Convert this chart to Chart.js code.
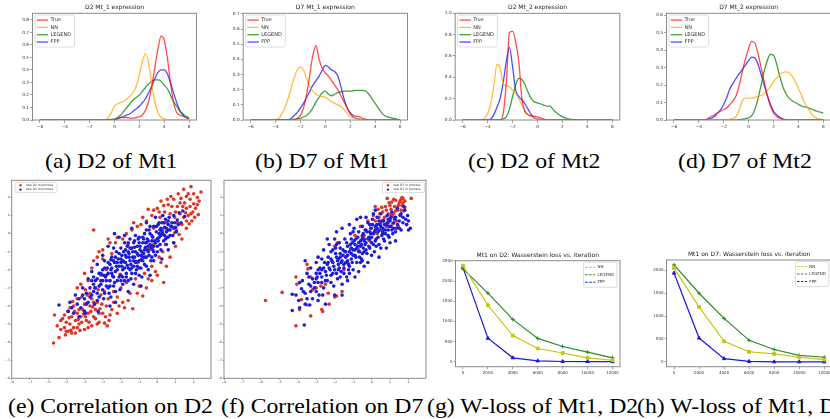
<!DOCTYPE html>
<html>
<head>
<meta charset="utf-8">
<script src="https://cdn.jsdelivr.net/npm/chart.js@4.4.1/dist/chart.umd.min.js"></script>
<style>
  body { margin: 0; background: #fff; }
  #fig { position: relative; width: 830px; height: 419px; overflow: hidden; background: #fff; }
  #fig canvas { position: absolute; }
  .cap { position: absolute; font-family: "Liberation Serif", "Times New Roman", serif; font-size: 21px;
         line-height: 21px; white-space: nowrap; color: #000; transform: scaleX(1.13); transform-origin: 0 0; }
</style>
</head>
<body>
<div id="fig">
  <div class="cap" style="left:45px;top:151px">(a) D2 of Mt1</div>
  <div class="cap" style="left:255px;top:151px">(b) D7 of Mt1</div>
  <div class="cap" style="left:468px;top:151px">(c) D2 of Mt2</div>
  <div class="cap" style="left:678px;top:151px">(d) D7 of Mt2</div>
  <div class="cap" style="left:8px;top:396px">(e) Correlation on D2</div>
  <div class="cap" style="left:221px;top:396px">(f) Correlation on D7</div>
  <div class="cap" style="left:427px;top:396px">(g) W-loss of Mt1, D2</div>
  <div class="cap" style="left:637px;top:396px">(h) W-loss of Mt1, D7</div>
</div>
<script>
// density curves, x from -6 to 6 in 0.25 steps
const xGrid = [-6,-5.75,-5.5,-5.25,-5,-4.75,-4.5,-4.25,-4,-3.75,-3.5,-3.25,-3,-2.75,-2.5,-2.25,-2,-1.75,-1.5,-1.25,-1,-0.75,-0.5,-0.25,
  0,0.25,0.5,0.75,1,1.25,1.5,1.75,2,2.25,2.5,2.75,3,3.25,3.5,3.75,4,4.25,4.5,4.75,5,5.25,5.5,5.75,6];

const d2mt1True = [0,0,0,0,0,0,0,0,0,0,0,0,0,0,0,0,0,0,0,0,0,0,0,0,
  0,0.01,0.02,0.02,0.02,0.015,0.015,0.02,0.025,0.04,0.08,0.15,0.27,0.42,0.57,0.67,0.64,0.5,0.3,0.14,0.06,0.04,0.03,0.02,0.01];
const d2mt1NN = [0,0,0,0,0,0,0,0,0,0,0,0,0,0,0,0,0,0,0,0,0,
  0,0.02,0.06,0.11,0.13,0.14,0.15,0.17,0.19,0.22,0.27,0.36,0.47,0.53,0.45,0.28,0.14,0.06,0.02,0.01,
  0,0,0,0,0,0,0,0];
const d2mt1Legend = [0,0,0,0,0,0,0,0,0,0,0,0,0,0,0,0,0,0,0,0,0,0,0,
  0.005,0.01,0.02,0.04,0.07,0.1,0.13,0.16,0.18,0.2,0.23,0.26,0.29,0.31,0.32,0.32,0.31,0.28,0.25,0.2,0.15,0.11,0.07,0.05,0.03,0.02];
const d2mt1FPP = [0,0,0,0,0,0,0,0,0,0,0,0,0,0,0,0,0,0,0,0,0,0,0,0,
  0,0.01,0.02,0.03,0.04,0.05,0.07,0.09,0.11,0.14,0.17,0.22,0.27,0.33,0.38,0.4,0.4,0.37,0.3,0.22,0.14,0.08,0.04,0.02,0.01];

const d7mt1True = [0,0,0,0,0,0,0,0,0,0,0,0,0,0,
  0,0.01,0.03,0.08,0.17,0.3,0.43,0.49,0.4,0.34,0.31,0.29,0.26,0.23,0.2,0.16,0.12,0.08,0.05,0.03,0.025,0.02,0.01,0.005,
  0,0,0,0,0,0,0,0,0,0,0];
const d7mt1NN = [0,0,0,0,0,0,0,0,
  0.005,0.01,0.04,0.08,0.14,0.21,0.28,0.33,0.35,0.33,0.27,0.22,0.19,0.17,0.16,0.155,0.15,0.135,0.12,0.11,0.1,0.09,0.07,0.045,0.02,0.015,0.01,0.005,
  0,0,0,0,0,0,0,0,0,0,0,0,0];
const d7mt1Legend = [0,0,0,0,0,0,0,0,0,0,0,0,
  0,0.002,0.005,0.008,0.01,0.02,0.03,0.05,0.08,0.12,0.15,0.18,0.19,0.17,0.16,0.17,0.18,0.185,0.19,0.19,0.19,0.193,0.195,0.195,0.195,0.19,0.17,0.14,0.11,0.08,0.05,0.03,0.02,0.015,0.01,0.005,0.002];
const d7mt1FPP = [0,0,0,0,0,0,0,0,0,0,0,0,
  0,0.01,0.03,0.05,0.08,0.11,0.15,0.19,0.23,0.26,0.29,0.33,0.36,0.35,0.33,0.32,0.29,0.22,0.14,0.08,0.04,0.02,0.01,0.005,0,
  0,0,0,0,0,0,0,0,0,0,0,0];

const d2mt2True = [0,0,0,0,0,0,0,0,0,0,0,0,
  0,0.06,0.35,0.82,0.83,0.73,0.55,0.2,0.08,0.05,0.04,0.035,0.03,0.02,0.01,0,
  0,0,0,0,0,0,0,0,0,0,0,0,0,0,0,0,0,0,0,0,0];
const d2mt2NN = [0,0,0,0,0,0,
  0,0.02,0.06,0.15,0.32,0.52,0.49,0.34,0.32,0.31,0.28,0.25,0.2,0.14,0.08,0.05,0.03,0.02,0.01,0,
  0,0,0,0,0,0,0,0,0,0,0,0,0,0,0,0,0,0,0,0,0,0,0];
const d2mt2Legend = [0,0,0,0,0,0,0,0,0,0,0,0,
  0,0.01,0.03,0.1,0.22,0.33,0.39,0.38,0.33,0.26,0.2,0.17,0.16,0.15,0.14,0.13,0.13,0.1,0.07,0.05,0.03,0.02,0.01,0.005,0,
  0,0,0,0,0,0,0,0,0,0,0,0];
const d2mt2FPP = [0,0,0,0,0,0,0,0,
  0,0.01,0.05,0.12,0.2,0.35,0.55,0.68,0.5,0.28,0.22,0.19,0.15,0.1,0.05,0.02,0.01,0.005,0,
  0,0,0,0,0,0,0,0,0,0,0,0,0,0,0,0,0,0,0,0,0,0];

const d7mt2True = [0,0,0,0,0,0,0,0,0,0,
  0,0.01,0.02,0.03,0.04,0.05,0.06,0.07,0.09,0.11,0.14,0.2,0.28,0.35,0.41,0.45,0.44,0.38,0.3,0.22,0.14,0.08,0.04,0.02,0.01,0.005,0,
  0,0,0,0,0,0,0,0,0,0,0,0];
const d7mt2NN = [0,0,0,0,0,0,0,0,0,0,0,0,0,0,0,0,
  0,0.002,0.005,0.01,0.02,0.06,0.11,0.125,0.125,0.125,0.13,0.135,0.14,0.15,0.17,0.19,0.22,0.24,0.26,0.27,0.275,0.27,0.25,0.22,0.18,0.14,0.1,0.07,0.04,0.02,0.01,0.005,0];
const d7mt2Legend = [0,0,0,0,0,0,0,0,0,0,0,0,0,0,0,0,0,0,0,0,
  0,0.002,0.005,0.008,0.012,0.025,0.06,0.12,0.2,0.28,0.34,0.375,0.37,0.32,0.25,0.19,0.15,0.125,0.11,0.1,0.09,0.08,0.075,0.07,0.063,0.057,0.05,0.045,0.04];
const d7mt2FPP = [0,0,0,0,0,0,0,0,0,0,
  0,0.005,0.01,0.02,0.04,0.06,0.09,0.13,0.18,0.21,0.24,0.265,0.29,0.315,0.34,0.36,0.355,0.32,0.26,0.2,0.14,0.09,0.05,0.03,0.015,0.005,0,
  0,0,0,0,0,0,0,0,0,0,0,0];

// correlation scatter points
const realD2 = [[-5.7,-6.05],[-5.4,-5.75],[-5.65,-4.5],[-5.3,-5.3],[-5.1,-5.2],[-5.0,-4.9],[-4.9,-5.4],[-4.8,-5.0],[-4.7,-4.6],
  [-4.6,-5.2],[-4.5,-4.8],[-4.4,-4.4],[-4.3,-5.0],[-4.2,-4.6],[-4.1,-4.2],[-4.0,-5.3],[-4.0,-3.9],[-3.9,-4.8],[-3.8,-4.4],
  [-3.7,-4.0],[-3.6,-5.1],[-3.6,-3.6],[-3.5,-4.6],[-3.4,-4.2],[-3.3,-3.8],[-3.2,-4.9],[-3.1,-3.4],[-3.0,-4.4],[-2.9,-4.95],
  [-2.75,-5.1],[-2.8,-4.0],[-2.7,-3.6],[-4.9,-4.3],[-5.2,-4.7],[-4.6,-4.0],[-4.4,-3.6],[-4.25,-5.35],[-3.85,-3.4],[-4.5,-5.5],
  [-5.5,-5.1],[-3.95,-3.1],[-4.15,-3.5],[-3.45,-3.0],[-3.3,-5.0],[-2.6,-4.5],[-2.5,-4.2],[-3.75,-4.9],[-4.35,-4.75],[-4.05,-4.45],
  [-3.55,-4.05],[-3.15,-4.15],[-4.75,-5.35],[-5.05,-5.6],[-4.65,-3.75],[-3.25,-3.1],[-2.9,-3.2],
  [-3.5,0.2],[-3.0,-1.4],[-2.8,-2.0],[-2.6,-2.6],[-2.4,-3.2],[-2.2,-3.5],[-2.0,-3.0],[-1.9,-3.8],[-1.7,-2.7],[-1.5,-3.3],
  [-1.35,-4.15],[-1.2,-2.5],[-1.0,-2.9],[-0.8,-3.45],[-0.7,-2.2],[-0.5,-2.5],[-0.3,-1.8],[-0.1,-2.1],[0.35,-2.7],[0.1,-1.3],
  [0.3,-1.0],[-3.2,-1.0],[-3.1,-2.3],[-2.5,-1.1],[-2.3,-0.5],[-1.9,-0.3],[-1.6,-0.6],[-1.4,0.2],[-1.1,0.4],[-0.9,0.5],
  [-0.6,0.7],[-3.6,-1.9],[-3.8,-2.6],[-2.05,-2.25],[-1.05,-1.6],[-0.45,-0.9],[-4.2,-2.8],[-2.7,-0.3],[-0.2,0.3],[0.0,-0.3],
  [0.5,-1.8],[-1.8,-4.1],[-2.2,-4.4],
  [1.85,2.6],[2.2,2.0],[1.45,2.45],[1.7,2.2],[2.0,1.65],[1.2,-0.05],[0.2,1.8],[0.6,1.6],[0.9,1.9],[1.1,1.5],[1.3,1.95],
  [1.5,1.7],[1.6,1.4],[1.8,1.9],[1.95,1.2],[2.1,1.4],[2.3,1.8],[0.4,1.2],[0.7,1.1],[0.95,0.9],[1.25,1.1],[1.45,0.9],[1.7,1.0],
  [1.9,0.7],[0.15,0.9],[0.5,0.6],[0.8,0.4],[1.05,0.2],[1.35,0.5],[1.6,0.3],[0.3,0.2],[0.6,-0.2],[-0.3,1.0],[0.0,1.4],
  [-0.5,1.35],[2.4,2.3],[1.15,2.2],[0.75,2.05],[2.05,0.9],[1.75,0.55],[0.9,-0.5],[0.45,-0.6],[-0.2,-0.6],[1.35,-0.3],[2.25,1.05],
  [-5.3,-4.8],[-5.0,-5.4],[-4.85,-4.65],[-4.7,-5.5],[-4.55,-4.3],[-4.4,-5.2],[-4.3,-4.2],[-4.15,-4.9],[-3.95,-4.6],[-3.8,-5.2],
  [-3.65,-4.3],[-3.5,-3.8],[-3.4,-4.7],[-3.2,-4.4],[-3.05,-3.9],[-2.85,-4.6],[-2.65,-4.8],[-3.7,-3.3],[-4.8,-4.1],[-5.1,-4.5],
  [-2.4,-3.8],[-2.1,-4.0],[-1.6,-3.7],[-1.1,-3.3],[-0.6,-3.0],[-0.3,-2.6],[0.0,-2.3],[0.2,-1.6],[0.7,-1.3],[1.0,-0.7],[1.6,0.7],
  [1.8,1.5],[2.2,1.6],[1.4,1.5],[1.0,1.2],[0.8,1.5],[0.55,1.9],[0.35,1.55],[2.0,2.2],[1.6,2.05],[1.25,1.7],[1.55,1.15],[1.85,1.1],
  [0.1,1.2],[-0.2,1.3],[-0.8,0.9],[-1.3,0.6],[-1.7,0.0],[-2.2,-0.2],[-2.6,-0.5],[-3.0,-0.9],[-3.3,-1.3],[-3.5,-1.5],[-4.0,-2.2],
  [-4.4,-3.0],[1.1,0.6],[0.4,0.6],[0.95,0.05]];
const testD2 = [[-5.4,-3.95],[-4.9,-4.3],[-4.6,-4.4],[-4.4,-3.9],[-4.2,-4.1],[-4.0,-3.6],[-3.9,-3.3],[-3.8,-3.8],[-3.7,-3.0],
  [-3.6,-3.4],[-3.5,-2.8],[-3.45,-3.9],[-3.3,-3.3],[-3.3,-2.5],[-3.2,-2.9],[-3.1,-2.2],[-3.0,-3.1],[-3.0,-2.6],[-2.9,-1.9],
  [-2.85,-2.4],[-2.8,-2.9],[-2.7,-1.6],[-2.7,-2.2],[-2.65,-3.3],[-2.6,-2.6],[-2.5,-1.9],[-2.5,-1.3],[-2.45,-2.35],[-2.4,-2.9],
  [-2.35,-1.6],[-2.3,-2.1],[-2.25,-1.0],[-2.2,-2.6],[-2.15,-1.4],[-2.1,-1.8],[-2.05,-3.1],[-2.0,-2.3],[-2.0,-0.8],[-1.95,-1.2],
  [-1.9,-2.0],[-1.85,-1.55],[-1.8,-2.6],[-1.75,-0.9],[-1.7,-1.3],[-1.7,-2.2],[-1.65,-1.75],[-1.6,-0.5],[-1.55,-1.1],[-1.5,-2.0],
  [-1.5,-1.5],[-1.45,-2.5],[-1.4,-0.8],[-1.35,-1.3],[-1.3,-1.8],[-1.25,-0.4],[-1.2,-1.0],[-1.2,-2.2],[-1.15,-1.55],[-1.1,-0.7],
  [-1.05,-1.2],[-1.0,-1.9],[-1.0,-0.2],[-0.95,-0.9],[-0.9,-1.45],[-0.85,-2.4],[-0.8,-0.5],[-0.75,-1.1],[-0.7,-1.7],[-0.7,0.0],
  [-0.65,-0.75],[-0.6,-1.3],[-0.55,-0.3],[-0.5,-2.0],[-0.5,-1.0],[-0.45,0.2],[-0.4,-0.6],[-0.35,-1.5],[-0.3,-0.1],[-0.25,-0.9],
  [-0.2,0.4],[-0.15,-0.4],[-0.1,-1.2],[-0.05,0.1],[0.0,-0.7],[0.05,0.5],[0.1,-0.2],[0.15,0.2],[0.2,-0.9],[0.25,0.6],[0.3,0.0],
  [0.35,-0.4],[0.4,0.35],[0.45,0.8],[0.5,0.1],[0.55,-0.2],[0.6,0.5],[0.65,0.9],[0.7,0.2],[0.8,0.6],[0.85,-0.1],[0.9,1.0],
  [1.0,0.35],[1.1,0.75],[1.2,1.15],[1.3,0.6],[1.5,0.95],[1.4,1.25],[-2.35,0.0],[-2.1,-0.2],[-3.3,-1.7],[-3.6,-2.1],[-3.8,-2.5],
  [-4.1,-3.0],[-4.3,-4.6],[-4.8,-3.8],[-4.5,-3.4],[-3.95,-4.4],[-2.95,-3.6],[-2.55,-3.5],[-1.6,-3.2],[-1.3,-2.8],[-0.9,-2.9],
  [-0.4,-2.3],[0.25,-1.4],[0.6,-0.9],[0.9,-0.5],[-1.8,-0.1],[-1.4,0.3],[-2.7,-0.7],[-3.0,-1.2],[-0.6,0.6],[-0.1,0.9],[0.3,1.0],
  [-2.6,-4.0],[-3.25,-4.3],[-2.3,-3.8],[-2.3,-1.3],[-2.0,-1.6],[-1.8,-1.9],[-1.6,-1.0],[-1.3,-1.5],[-1.1,-1.8],[-0.9,-1.2],
  [-0.7,-0.9],[-0.5,-0.7],[-0.3,-0.4],[-0.2,-1.0],[0.0,-0.3],[0.2,0.3],[-1.9,-2.4],[-2.2,-2.0],[-2.5,-2.2],[-2.8,-2.6],
  [-3.1,-2.8],[-1.5,-0.3],[-1.0,-0.5],[-0.8,-0.2],[-0.4,0.0],[0.1,0.0],[0.4,-0.1],
  [-3.9,-3.9],[-3.7,-3.5],[-3.5,-3.2],[-3.4,-2.6],[-3.2,-3.5],[-3.1,-2.6],[-2.95,-2.3],[-2.9,-3.3],[-2.75,-1.9],[-2.6,-2.9],
  [-2.55,-2.0],[-2.4,-1.5],[-2.4,-2.4],[-2.3,-3.2],[-2.25,-1.8],[-2.1,-2.4],[-2.1,-1.1],[-1.95,-1.8],[-1.9,-2.8],[-1.85,-1.0],
  [-1.75,-1.6],[-1.7,-2.4],[-1.65,-0.7],[-1.6,-1.9],[-1.55,-1.3],[-1.45,-1.7],[-1.4,-2.2],[-1.35,-1.0],[-1.3,-0.5],[-1.25,-1.3],
  [-1.2,-1.6],[-1.15,-2.0],[-1.1,-1.1],[-1.05,-0.3],[-1.0,-1.5],[-0.95,-0.7],[-0.9,-1.9],[-0.85,-1.0],[-0.8,-1.3],[-0.75,-0.3],
  [-0.7,-1.3],[-0.65,-0.5],[-0.6,-1.8],[-0.55,-0.9],[-0.5,-0.4],[-0.45,-1.2],[-0.4,0.4],[-0.35,-0.8],[-0.3,-1.3],[-0.25,-0.2],
  [-0.2,-0.7],[-0.1,-0.5],[-0.05,0.4],[0.05,-0.4],[0.1,0.6],[0.15,-0.6],[0.25,0.1],[0.35,0.6],[0.45,-0.3],[0.5,0.3],[0.6,0.7],
  [0.7,-0.1],[0.75,0.4],[0.95,0.6],[1.05,0.1],[1.15,0.5],[0.5,-0.6],[-2.0,-1.4],[-2.2,-1.6],[-2.6,-1.7],[-2.8,-2.3],[-3.0,-2.0],
  [-3.4,-3.0],[-3.6,-2.6],[-4.1,-3.4],[-4.3,-3.6],[-4.7,-4.1],[-4.0,-4.3],[-3.3,-3.7],[-1.6,-2.6],[-1.0,-2.3],[-0.2,-1.5],
  [0.0,-1.0],[-1.8,-0.5],[-1.2,-0.1],[-0.6,0.2],[-2.4,-0.8],[-2.9,-1.5],[-3.5,-2.4],[-1.5,-0.8],[-1.9,-1.5],[-2.35,-2.7],
  [-2.7,-3.0],[-2.0,-2.6],[-1.4,-1.9],[-0.8,-1.5],[-0.3,-0.7],[0.2,-0.1],[0.6,0.2],[0.9,0.3],[-3.2,-2.2],[-2.55,-1.45],
  [-1.75,-1.2],[-1.25,-0.75],[-0.6,-0.5]];
const realD7 = [[-5.75,-3.7],[-4.85,-3.25],[-4.1,-2.4],[-4.05,-2.8],[-3.5,-1.7],[-3.45,-1.95],[-4.1,-5.1],[-3.3,-4.55],
  [-3.5,-3.95],[-3.9,-4.2],[-2.7,-4.2],[-2.65,-4.3],[-2.3,-3.9],[-1.9,-3.45],[-3.2,-3.1],[-3.0,-3.0],[-2.75,-2.9],[-2.35,-3.3],
  [-3.8,-3.65],[-3.3,-2.4],[-1.85,-0.5],[-0.5,-0.2],[-1.15,-0.85],[-1.5,-2.0],[-2.0,-0.7],[-0.9,-0.1],[-0.6,0.4],[-0.3,0.2],
  [0.0,0.3],[0.2,0.7],[0.3,0.0],[0.4,0.9],[0.5,0.6],[0.6,1.2],[0.7,0.9],[0.75,1.5],[0.8,0.4],[0.9,1.1],[0.95,1.7],[1.0,0.8],
  [1.05,1.35],[1.1,1.75],[1.2,1.1],[1.25,1.5],[1.3,1.85],[1.35,0.7],[1.4,1.3],[1.5,1.7],[1.55,1.05],[1.6,1.9],[1.65,1.55],
  [1.7,1.95],[1.75,1.25],[1.8,1.8],[2.15,1.95],[0.35,1.35],[0.1,1.0],[-0.2,0.7],[0.65,0.2],[1.15,0.55],[1.45,0.4],[1.9,0.5],
  [0.85,1.95],[-0.1,-0.4],[-1.3,-1.6],[-0.7,-0.9],
  [0.45,1.1],[0.55,1.45],[0.65,0.75],[0.8,1.3],[0.9,0.6],[1.0,1.55],[1.15,0.95],[1.2,1.9],[1.3,1.25],[1.45,1.55],[1.55,1.8],
  [1.6,1.3],[1.7,1.7],[1.8,1.45],[1.65,2.0],[1.05,1.05],[0.3,0.5],[-0.1,0.5],[-0.4,-0.1],[0.2,1.5],[-2.0,-3.5],[-1.6,-3.2],
  [-2.5,-2.8]];
const testD7 = [[-4.1,-3.4],[-3.9,-4.1],[-3.65,-5.05],[-4.3,-3.35],[-3.7,-3.2],[-3.5,-3.6],[-3.4,-2.8],[-3.3,-3.2],[-3.2,-2.5],
  [-3.1,-3.0],[-3.0,-2.2],[-2.9,-2.7],[-2.85,-3.4],[-2.8,-1.9],[-2.7,-2.4],[-2.6,-3.0],[-2.55,-1.6],[-2.5,-2.1],[-2.5,-3.9],
  [-2.4,-2.6],[-2.35,-1.3],[-2.3,-1.9],[-2.2,-2.3],[-2.2,-1.0],[-2.1,-1.6],[-2.05,-2.9],[-2.0,-2.0],[-1.95,-0.8],[-1.9,-1.3],
  [-1.85,-2.5],[-1.8,-1.7],[-1.75,-0.5],[-1.7,-1.1],[-1.65,-2.1],[-1.6,-1.5],[-1.55,-0.9],[-1.5,-1.9],[-1.45,-0.3],[-1.4,-1.3],
  [-1.35,-2.4],[-1.3,-0.7],[-1.25,-1.7],[-1.2,-1.0],[-1.15,0.0],[-1.1,-1.4],[-1.05,-0.5],[-1.0,-2.0],[-1.0,-0.9],[-0.95,0.3],
  [-0.9,-1.2],[-0.85,-0.3],[-0.8,-1.6],[-0.75,-0.7],[-0.7,0.1],[-0.65,-1.0],[-0.6,-0.4],[-0.55,-1.4],[-0.5,0.4],[-0.5,-0.1],
  [-0.45,-0.8],[-0.4,-1.8],[-0.35,0.2],[-0.3,-0.5],[-0.25,-1.1],[-0.2,0.6],[-0.15,-0.2],[-0.1,-0.8],[-0.05,0.3],[0.0,-0.5],
  [0.05,0.8],[0.1,0.0],[0.15,-1.0],[0.2,0.4],[0.25,-0.3],[0.3,0.9],[0.35,0.1],[0.4,-0.6],[0.45,0.5],[0.5,1.1],[0.55,-0.1],
  [0.6,0.3],[0.65,0.7],[0.7,-0.4],[0.75,0.0],[0.8,0.5],[0.85,1.0],[0.9,0.2],[0.95,-0.2],[1.0,0.7],[1.05,0.4],[1.1,1.2],
  [1.15,0.0],[1.2,0.6],[1.3,0.9],[1.35,0.3],[1.4,1.4],[1.5,0.7],[1.55,1.0],[1.6,0.2],[1.7,0.9],[1.8,1.3],[1.9,0.5],[2.0,0.2],
  [2.1,0.3],[1.75,1.5],[1.95,1.0],[-4.3,-4.25],[-3.6,-3.9],[-3.95,-3.7],[-3.75,-2.6],[-3.5,-2.2],[-3.6,-1.5],[-2.9,-3.7],
  [-2.7,-1.4],[-2.3,-0.6],[-1.6,-2.8],[-1.2,-2.2],[-0.7,-2.1],[-0.2,-1.6],[0.4,-1.3],[-2.0,-3.4],[-2.6,-0.9],[-1.9,0.1],
  [-1.2,0.5],[-0.8,0.8],[0.2,1.3],[-1.6,-3.4],[-2.9,-1.3],[-3.3,-1.9],[0.8,-0.8],[1.3,-0.4],[-1.7,-1.3],[-1.3,-1.5],[-1.0,-1.2],
  [-0.7,-1.0],[-0.4,-0.4],[-0.1,-0.3],[0.2,0.2],[0.5,0.4],[-2.1,-2.2],[-1.8,-2.0],[-1.5,-1.7],[-0.9,-0.6],[-0.6,-0.7],[-0.3,-0.9],
  [0.1,-0.6],[0.6,0.0],[-2.4,-1.7],[-2.7,-2.0],[-3.0,-2.5],[1.2,0.3],[0.9,0.8],[0.3,0.5],[-0.1,0.1],[-0.5,-0.3],[-1.1,-0.8],
  [-1.4,-1.0],[-1.8,-1.4],[-2.2,-1.4],[-3.0,-3.2],[-3.8,-3.05],[-3.35,-3.95],
  [-3.6,-3.3],[-3.3,-2.9],[-3.1,-2.7],[-2.95,-2.4],[-2.8,-2.2],[-2.7,-2.7],[-2.6,-1.9],[-2.45,-2.3],[-2.35,-1.6],[-2.25,-2.0],
  [-2.15,-1.5],[-2.05,-1.8],[-1.95,-1.1],[-1.9,-2.2],[-1.85,-1.5],[-1.75,-1.9],[-1.7,-0.8],[-1.65,-1.6],[-1.55,-1.2],[-1.5,-2.2],
  [-1.45,-1.0],[-1.4,-1.6],[-1.35,-0.5],[-1.3,-1.2],[-1.25,-2.0],[-1.15,-0.6],[-1.1,-1.1],[-1.05,-1.6],[-0.95,-0.4],[-0.9,-0.9],
  [-0.85,-1.3],[-0.75,-0.2],[-0.7,-0.5],[-0.65,-1.3],[-0.55,-0.6],[-0.5,-1.1],[-0.45,0.0],[-0.4,-0.3],[-0.35,-0.6],[-0.25,0.1],
  [-0.2,-0.3],[-0.15,-0.7],[-0.05,0.0],[0.0,-0.2],[0.05,0.5],[0.15,0.1],[0.2,-0.4],[0.3,0.3],[0.35,-0.2],[0.45,0.2],[0.55,0.7],
  [0.6,0.1],[0.7,0.5],[0.75,0.2],[0.85,0.6],[0.95,0.4],[1.05,0.9],[1.1,0.2],[1.25,0.8],[1.4,0.5],[1.5,0.3],[1.6,1.1],[1.7,0.6],
  [1.85,0.8],[2.0,0.7],[-3.2,-3.6],[-2.65,-3.4],[-2.2,-2.7],[-1.3,-2.6],[-0.9,-2.4],[-0.5,-1.5],[0.0,-1.2],[0.5,-0.8],[1.0,-0.5],
  [-2.4,-0.3],[-2.0,-0.3],[-1.6,0.3],[-0.3,0.9],[0.1,1.1],[-0.6,0.9],[-3.9,-2.7],[-3.0,-1.6],[-2.1,-0.9],[-1.0,0.1],[-0.1,0.5],
  [0.4,0.7],[0.9,-0.1],[1.3,0.1],[-1.9,-0.6],[-1.1,-0.3],[-0.8,-0.8],[-0.4,-1.0],[0.25,-0.7],[0.65,-0.3],[-2.5,-2.6],[-1.7,-2.4],
  [-1.2,-1.8],[-0.6,-1.6],[-2.9,-2.0],[-3.4,-2.4]];

// Wasserstein loss vs iteration
const iterations = [0, 2000, 4000, 6000, 8000, 10000, 12000];
const lossD2NN = [2380, 1400, 650, 330, 220, 100, 40];
const lossD2Legend = [2300, 1700, 1050, 580, 380, 240, 100];
const lossD2FPP = [2330, 585, 100, 25, 10, 8, 5];
const lossD7NN = [2050, 1200, 450, 220, 175, 100, 50];
const lossD7Legend = [2120, 1500, 950, 470, 270, 140, 100];
const lossD7FPP = [1940, 520, 70, 10, 0, 0, 0];

// tick labels
const densityXTicks = [-6, -4, -2, 0, 2, 4, 6];
const scatterTicks = [-8, -7, -6, -5, -4, -3, -2, -1, 0, 1, 2];
const lossD2YTicks = [0, 500, 1000, 1500, 2000, 2500];
const lossD7YTicks = [0, 500, 1000, 1500, 2000];

Chart.defaults.animation = false;
Chart.defaults.font.family = '"DejaVu Sans", sans-serif';
Chart.defaults.plugins.legend.display = false;
Chart.defaults.plugins.tooltip.enabled = false;

// matplotlib style box around plot area
const frame = {
  id: 'frame',
  afterDatasetsDraw(chart) {
    const { ctx, chartArea: a } = chart;
    ctx.save();
    ctx.strokeStyle = '#8a8a8a';
    ctx.lineWidth = 1;
    ctx.strokeRect(a.left, a.top, a.right - a.left, a.bottom - a.top);
    ctx.restore();
  }
};

const panelTitle = {
  id: 'panelTitle',
  afterDraw(chart, args, o) {
    if (!o.text) return;
    const { ctx, chartArea: a } = chart;
    ctx.save();
    ctx.font = o.size + 'px "DejaVu Sans"';
    ctx.fillStyle = '#222';
    ctx.textAlign = 'center';
    ctx.textBaseline = 'middle';
    ctx.fillText(o.text, (a.left + a.right) / 2, a.top - o.dy);
    ctx.restore();
  }
};

// legend drawn inside the plot like matplotlib
const boxLegend = {
  id: 'boxLegend',
  afterDraw(chart, args, o) {
    if (!o.kind) return;
    const { ctx, chartArea: a } = chart;
    const items = chart.data.datasets;
    ctx.save();
    ctx.font = o.size + 'px "DejaVu Sans"';
    const tw = Math.max(...items.map(d => ctx.measureText(d.label).width));
    const w = o.textX + tw + o.padR;
    const h = o.first + (items.length - 1) * o.row + o.last;
    const x = o.right ? a.right - o.dx - w : a.left + o.dx;
    const y = a.top + o.dy;
    ctx.fillStyle = 'rgba(255,255,255,0.85)';
    ctx.strokeStyle = '#d4d4d4';
    ctx.lineWidth = 0.8;
    ctx.beginPath();
    ctx.roundRect(x, y, w, h, 1.5);
    ctx.fill();
    ctx.stroke();
    items.forEach((d, i) => {
      const cy = y + o.first + i * o.row;
      if (o.kind === 'dot') {
        ctx.fillStyle = d.backgroundColor;
        ctx.beginPath();
        ctx.arc(x + o.sx, cy, o.r, 0, Math.PI * 2);
        ctx.fill();
      } else {
        ctx.strokeStyle = d.borderColor;
        ctx.lineWidth = o.lw;
        ctx.setLineDash(o.dash || []);
        ctx.beginPath();
        ctx.moveTo(x + o.sx, cy);
        ctx.lineTo(x + o.sx + o.sw, cy);
        ctx.stroke();
        ctx.setLineDash([]);
      }
      ctx.fillStyle = '#333';
      ctx.textBaseline = 'middle';
      ctx.fillText(d.label, x + o.textX, cy);
    });
    ctx.restore();
  }
};

Chart.register(frame, panelTitle, boxLegend);

const fig = document.getElementById('fig');
const minus = v => (v < 0 ? '\u2212' : '') + Math.abs(v);

function axis(min, max, tickList, size, tl, pad, fmt) {
  return {
    type: 'linear', min, max,
    afterBuildTicks: s => { s.ticks = tickList.map(v => ({ value: v })); },
    ticks: { autoSkip: false, maxRotation: 0, font: { size }, color: '#333', padding: pad, callback: fmt },
    grid: { drawOnChartArea: false, drawTicks: true, tickLength: tl, color: '#666', lineWidth: 0.6 },
    border: { display: false }
  };
}

// box = canvas [left, top, width, height], plot = chart area [left, top, right, bottom] in page pixels
function panel(box, plot, cfg) {
  const c = document.createElement('canvas');
  c.width = box[2]; c.height = box[3];
  c.style.left = box[0] + 'px'; c.style.top = box[1] + 'px';
  c.style.width = box[2] + 'px'; c.style.height = box[3] + 'px';
  fig.appendChild(c);
  const yW = plot[0] - box[0];
  const xH = box[1] + box[3] - plot[3];
  cfg.options.responsive = false;
  cfg.options.layout = { padding: { left: 0, bottom: 0, top: plot[1] - box[1], right: box[0] + box[2] - plot[2] } };
  cfg.options.scales.x.afterFit = s => { s.height = xH; };
  cfg.options.scales.y.afterFit = s => { s.width = yW; };
  return new Chart(c, cfg);
}

const RED = 'rgba(255,0,0,0.7)', ORANGE = 'rgba(255,165,0,0.75)', GREEN = 'rgba(0,128,0,0.75)', BLUE = 'rgba(0,0,255,0.7)';

function densityPanel(box, plot, title, ymax, yTicks, series) {
  const names = ['True', 'NN', 'LEGEND', 'FPP'];
  const cols = [RED, ORANGE, GREEN, BLUE];
  panel(box, plot, {
    type: 'line',
    data: {
      datasets: series.map((s, i) => ({
        label: names[i],
        data: xGrid.map((x, j) => ({ x, y: s[j] })),
        borderColor: cols[i], borderWidth: 1.3, pointRadius: 0,
        cubicInterpolationMode: 'monotone', fill: false
      }))
    },
    options: {
      scales: {
        x: axis(-6.6, 6.6, densityXTicks, 4.3, 3, 1.4, v => minus(v)),
        y: axis(0, ymax, yTicks, 4.3, 2.5, 1, v => v.toFixed(1))
      },
      plugins: {
        panelTitle: { text: title, size: 6, dy: 6 },
        boxLegend: { kind: 'line', size: 5, dx: 2.5, dy: 1.8, first: 5, row: 7.3, last: 5, sx: 1.7, sw: 11.5, textX: 15.5, padR: 3.5, lw: 1.3 }
      }
    }
  });
}

densityPanel([0, 0, 210, 140], [32.5, 13.3, 196.5, 120], 'D2 Mt_1 expression', 0.853,
  [0, 0.1, 0.2, 0.3, 0.4, 0.5, 0.6, 0.7, 0.8], [d2mt1True, d2mt1NN, d2mt1Legend, d2mt1FPP]);
densityPanel([210, 0, 210, 140], [243.2, 13.3, 407.5, 120], 'D7 Mt_1 expression', 0.704,
  [0, 0.1, 0.2, 0.3, 0.4, 0.5, 0.6, 0.7], [d7mt1True, d7mt1NN, d7mt1Legend, d7mt1FPP]);
densityPanel([420, 0, 205, 140], [455.2, 13.3, 619.8, 120], 'D2 Mt_2 expression', 1.0,
  [0, 0.2, 0.4, 0.6, 0.8, 1.0], [d2mt2True, d2mt2NN, d2mt2Legend, d2mt2FPP]);
densityPanel([625, 0, 215, 140], [666.5, 13.3, 830.8, 120], 'D7 Mt_2 expression', 0.61,
  [0, 0.1, 0.2, 0.3, 0.4, 0.5, 0.6], [d7mt2True, d7mt2NN, d7mt2Legend, d7mt2FPP]);

function scatterPanel(box, plot, real, test, tag, right) {
  panel(box, plot, {
    type: 'scatter',
    data: {
      datasets: [
        { label: 'real ' + tag + ' in process', data: real.map(p => ({ x: p[0], y: p[1] })), backgroundColor: '#e03424', borderWidth: 0, pointRadius: 1.8, order: 1 },
        { label: 'test ' + tag + ' in process', data: test.map(p => ({ x: p[0], y: p[1] })), backgroundColor: '#1c1cdc', borderWidth: 0, pointRadius: 1.8, order: 0 }
      ]
    },
    options: {
      scales: {
        x: axis(-8, 2.95, scatterTicks, 3, 1.5, 0.5, v => minus(v)),
        y: axis(-8, 2.95, scatterTicks, 3, 1.5, 0.5, v => minus(v))
      },
      plugins: {
        boxLegend: { kind: 'dot', right, size: 3, dx: right ? 1.5 : 3.3, dy: 2, first: 3, row: 4.3, last: 3, sx: 5.5, r: 1.2, textX: 11, padR: 4 }
      }
    }
  });
}

scatterPanel([0, 170, 215, 215], [11.7, 180.3, 213, 378.3], realD2, testD2, 'D2', false);
scatterPanel([205, 170, 225, 215], [224, 180.3, 427, 378.3], realD7, testD7, 'D7', true);

function lossPanel(box, plot, title, ymin, ymax, yTicks, nn, legend, fpp) {
  const mk = (label, vals, color, style) => ({
    label, data: iterations.map((x, i) => ({ x, y: vals[i] })),
    borderColor: color, backgroundColor: color, borderWidth: 1.2,
    pointStyle: style, pointRadius: 2, pointBorderWidth: 1, showLine: true
  });
  panel(box, plot, {
    type: 'scatter',
    data: {
      datasets: [
        mk('NN', nn, '#c4c414', 'rect'),
        mk('LEGEND', legend, '#2a8a2a', 'cross'),
        mk('FPP', fpp, '#1a1ae0', 'triangle')
      ]
    },
    options: {
      scales: {
        x: axis(-600, 12600, iterations, 4, 2.5, 1, v => String(v)),
        y: axis(ymin, ymax, yTicks, 4, 2, 1, v => String(v))
      },
      plugins: {
        panelTitle: { text: title, size: 6, dy: 5.7 },
        boxLegend: { kind: 'line', right: true, size: 4, dx: 3, dy: 1.5, first: 5, row: 7.5, last: 5, sx: 1.7, sw: 10, textX: 14, padR: 3, lw: 1.1, dash: [2.5, 1.5] }
      }
    }
  });
}

lossPanel([420, 240, 210, 140], [455.5, 260.7, 620, 366.7], 'Mt1 on D2: Wasserstein loss vs. iteration', -119, 2502,
  lossD2YTicks, lossD2NN, lossD2Legend, lossD2FPP);
lossPanel([625, 240, 215, 140], [666.5, 260, 831.8, 366.7], 'Mt1 on D7: Wasserstein loss vs. iteration', -106, 2226,
  lossD7YTicks, lossD7NN, lossD7Legend, lossD7FPP);
</script>
</body>
</html>
